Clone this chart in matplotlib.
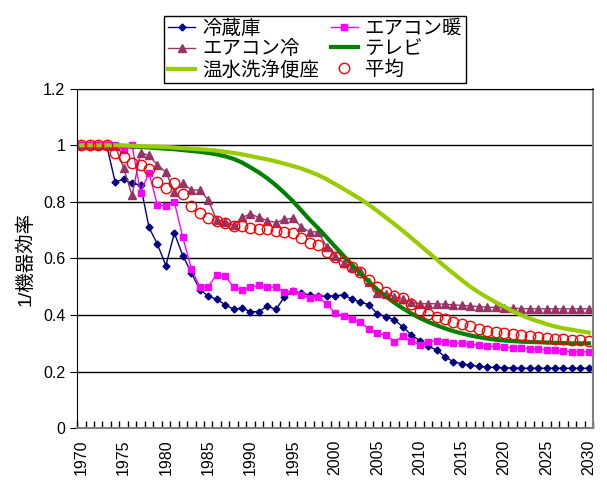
import numpy as np
import matplotlib
matplotlib.use("Agg")
import matplotlib.pyplot as plt

plt.rcParams['font.family'] = ['Liberation Sans', 'Noto Sans CJK JP', 'DejaVu Sans']

years = list(range(1970, 2031))

# 冷蔵庫
fridge = [1.0, 1.0, 1.0, 1.0, 0.87, 0.88, 0.865, 0.86, 0.71, 0.65,
          0.575, 0.69, 0.61, 0.55, 0.49, 0.467, 0.456, 0.437, 0.42, 0.425,
          0.412, 0.412, 0.432, 0.42, 0.463, 0.486, 0.477, 0.471, 0.467, 0.467,
          0.468, 0.472, 0.456, 0.446, 0.437, 0.404, 0.394, 0.383, 0.359, 0.33,
          0.31, 0.29, 0.277, 0.252, 0.235, 0.228, 0.222, 0.219, 0.216, 0.215,
          0.214, 0.213, 0.212, 0.212, 0.212, 0.212, 0.212, 0.212, 0.212, 0.212, 0.212]
# エアコン暖
ac_heat = [1.0, 1.0, 1.0, 1.0, 1.0, 0.983, 1.0, 0.833, 0.903, 0.788,
           0.787, 0.80, 0.675, 0.564, 0.50, 0.50, 0.543, 0.538, 0.50, 0.489,
           0.498, 0.505, 0.50, 0.498, 0.482, 0.485, 0.472, 0.46, 0.463, 0.44,
           0.406, 0.398, 0.386, 0.376, 0.35, 0.336, 0.33, 0.305, 0.325, 0.31,
           0.295, 0.305, 0.31, 0.305, 0.302, 0.30, 0.297, 0.294, 0.291, 0.289,
           0.287, 0.285, 0.283, 0.281, 0.279, 0.277, 0.276, 0.272, 0.271, 0.27, 0.27]
# エアコン冷
ac_cool = [1.0, 1.0, 1.0, 1.0, 0.998, 0.92, 0.823, 0.974, 0.964, 0.93,
           0.905, 0.836, 0.866, 0.842, 0.842, 0.807, 0.736, 0.73, 0.718, 0.745,
           0.757, 0.745, 0.734, 0.727, 0.738, 0.742, 0.712, 0.694, 0.694, 0.642,
           0.609, 0.585, 0.57, 0.557, 0.516, 0.479, 0.475, 0.465, 0.456, 0.446,
           0.44, 0.44, 0.44, 0.438, 0.436, 0.434, 0.432, 0.43, 0.428, 0.427,
           0.425, 0.424, 0.423, 0.422, 0.422, 0.422, 0.422, 0.422, 0.422, 0.422, 0.422]
# テレビ
tv = [1.0, 1.0, 1.0, 1.0, 0.999, 0.998, 0.996, 0.994, 0.992, 0.99,
      0.988, 0.986, 0.983, 0.98, 0.977, 0.973, 0.968, 0.961, 0.952, 0.939,
      0.922, 0.904, 0.883, 0.859, 0.832, 0.803, 0.77, 0.737, 0.707, 0.675,
      0.642, 0.61, 0.578, 0.547, 0.518, 0.49, 0.466, 0.444, 0.424, 0.406,
      0.39, 0.376, 0.364, 0.353, 0.343, 0.335, 0.328, 0.322, 0.317, 0.313,
      0.31, 0.308, 0.306, 0.305, 0.304, 0.303, 0.302, 0.301, 0.30, 0.30, 0.30]
# 温水洗浄便座
toilet = [1.0, 1.0, 1.0, 1.0, 1.0, 0.999, 0.998, 0.997, 0.996, 0.995,
          0.994, 0.992, 0.99, 0.988, 0.986, 0.984, 0.981, 0.977, 0.973, 0.968,
          0.962, 0.956, 0.95, 0.943, 0.935, 0.927, 0.918, 0.907, 0.895, 0.88,
          0.863, 0.846, 0.828, 0.81, 0.79, 0.768, 0.745, 0.722, 0.698, 0.673,
          0.648, 0.622, 0.597, 0.571, 0.547, 0.523, 0.50, 0.48, 0.462, 0.445,
          0.43, 0.414, 0.40, 0.388, 0.378, 0.368, 0.36, 0.353, 0.348, 0.343, 0.338]
# 平均
average = [1.0, 1.0, 1.0, 1.0, 0.974, 0.958, 0.939, 0.931, 0.917, 0.871,
           0.85, 0.866, 0.827, 0.785, 0.762, 0.744, 0.733, 0.727, 0.715, 0.713,
           0.707, 0.703, 0.703, 0.696, 0.694, 0.691, 0.671, 0.656, 0.647, 0.623,
           0.605, 0.588, 0.571, 0.553, 0.524, 0.50, 0.483, 0.467, 0.46, 0.439,
           0.416, 0.403, 0.394, 0.385, 0.377, 0.369, 0.36, 0.352, 0.345, 0.34,
           0.335, 0.332, 0.329, 0.326, 0.322, 0.319, 0.317, 0.315, 0.313, 0.311, 0.31]

fig = plt.figure(figsize=(6.07, 4.90), dpi=100)
ax = fig.add_axes([0.127, 0.126, 0.85, 0.693])

l1, = ax.plot(years, fridge, color="#000080", marker="D", ms=3.5, lw=1, label="冷蔵庫")
l2, = ax.plot(years, ac_heat, color="#FF00FF", marker="s", ms=4, lw=1, label="エアコン暖")
l3, = ax.plot(years, ac_cool, color="#993366", marker="^", ms=5.5, lw=1, label="エアコン冷")
l4, = ax.plot(years, tv, color="#008000", lw=3, label="テレビ")
l5, = ax.plot(years, toilet, color="#99CC00", lw=3, label="温水洗浄便座")
l6, = ax.plot(years, average, color="#FF0000", marker="o", ms=7.5, mfc="none", mew=1,
              lw=0, label="平均")

ax.set_xlim(1969.5, 2030.5)
ax.set_ylim(0, 1.2)
ax.set_yticks(np.arange(0, 1.21, 0.2))
ax.set_yticklabels(["0", "0.2", "0.4", "0.6", "0.8", "1", "1.2"])
ax.set_xticks(range(1970, 2031, 5))
ax.set_xticklabels([str(y) for y in range(1970, 2031, 5)], rotation=90)
ax.set_xticks(np.arange(1969.5, 2031, 1), minor=True)
ax.tick_params(axis="x", which="major", length=0, labelsize=11.5, pad=8)
ax.tick_params(axis="x", which="minor", direction="in", length=5, width=1)
ax.tick_params(axis="y", direction="out", length=5, labelsize=11.5)
ax.yaxis.grid(True, color="black", lw=1)
ax.set_axisbelow(True)
ax.spines["left"].set_color("black")
ax.spines["bottom"].set_color("#808080")
ax.spines["bottom"].set_linewidth(1.5)
ax.spines["right"].set_color("#808080")
ax.spines["right"].set_linewidth(1.5)
ax.spines["top"].set_color("black")
ax.set_ylabel("1/機器効率", fontsize=14, labelpad=6)

handles = [l1, l3, l5, l2, l4, l6]
fig.legend(handles, [h.get_label() for h in handles], ncol=2, loc="upper center",
           bbox_to_anchor=(315 / 607, 1 - 6 / 490), fontsize=14, frameon=True,
           fancybox=False, edgecolor="black", framealpha=1, handlelength=1.4,
           columnspacing=0.6, labelspacing=0.12, borderpad=0.2, handletextpad=0.35)

fig.savefig("out.png", dpi=100)
